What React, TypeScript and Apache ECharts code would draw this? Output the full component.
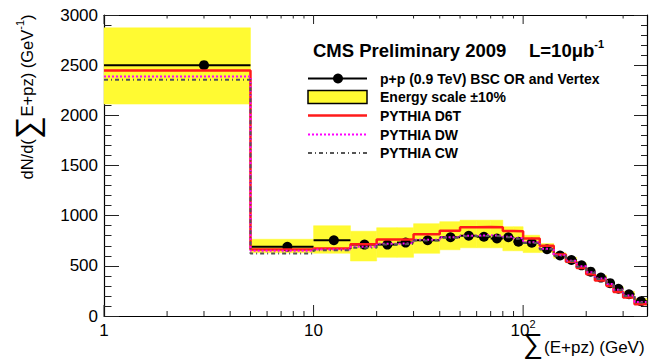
import { useEffect, useRef } from "react";
import * as echarts from "echarts";

const FONT = '"Liberation Sans", Arial, Helvetica, sans-serif';

// Bin edges of sum(E+pz) in GeV
const binEdges = [1, 5, 10, 15, 20, 25, 30, 40, 50, 60, 70, 80, 90, 100, 120, 140, 160, 180, 200, 220, 250, 270, 300, 340, 390];

// Measured dN/d(sum E+pz) per bin
const dataValues = [2500, 690, 755, 712, 712, 732, 755, 785, 800, 790, 772, 785, 740, 730, 665, 603, 558, 505, 442, 383, 327, 272, 217, 147];

// Energy scale envelope per bin
const bandLow = [2112, 630, 625, 548, 585, 585, 625, 660, 680, 680, 680, 650, 650, 632, 635, 575, 530, 480, 415, 355, 300, 245, 190, 120];
const bandHigh = [2872, 765, 900, 845, 880, 880, 920, 940, 955, 955, 955, 890, 890, 805, 722, 630, 585, 530, 465, 405, 350, 295, 245, 175];

// Generator predictions per bin
const pythiaD6T = [2448, 662, 672, 715, 762, 762, 815, 850, 885, 888, 885, 848, 845, 772, 700, 612, 540, 478, 415, 355, 298, 240, 185, 118];
const pythiaDW = [2388, 650, 662, 690, 720, 725, 760, 785, 800, 805, 800, 790, 775, 735, 670, 605, 550, 495, 435, 375, 318, 262, 205, 140];
const pythiaCW = [2355, 622, 655, 680, 712, 718, 752, 780, 795, 798, 795, 785, 770, 728, 665, 600, 545, 490, 430, 370, 313, 258, 200, 135];

// Log-axis ticks and their labels (mantissa, exponent)
const xMajorTicks = [1, 10, 100];
const xTickLabels: [string, string][] = [["1", ""], ["10", ""], ["10", "2"]];
const xMinorTicks = [2, 3, 4, 5, 6, 7, 8, 9, 20, 30, 40, 50, 60, 70, 80, 90, 200, 300];

const X_MIN = 1;
const X_MAX = 390;
const Y_MIN = 0;
const Y_MAX = 3000;
const Y_STEP = 500;

const YELLOW = "#fffa32";
const RED = "#ff1a1a";
const MAGENTA = "#ff00ff";
const GREY = "#555555";

const stepData = (vals: number[]) =>
  vals.flatMap((v, i) => [
    [binEdges[i], v],
    [binEdges[i + 1], v],
  ]);

const textStyle = (extra: any) => ({
  fontFamily: FONT,
  fill: "#000",
  align: "left",
  verticalAlign: "middle",
  textAlign: "left",
  textVerticalAlign: "middle",
  ...extra,
});

export default function App() {
  const ref = useRef<HTMLDivElement>(null);

  useEffect(() => {
    if (!ref.current) return;
    const chart = echarts.init(ref.current, undefined, { renderer: "svg" });

    const bins = dataValues.map((_, i) => ({ lo: binEdges[i], hi: binEdges[i + 1] }));

    const logAxis = (position: "bottom" | "top", showLabels: boolean) => ({
      type: "log",
      logBase: 10,
      min: X_MIN,
      max: X_MAX,
      position,
      axisLine: { show: true, onZero: false, lineStyle: { color: "#000", width: 1.2 } },
      axisTick: { show: false },
      minorTick: { show: false },
      splitLine: { show: false },
      axisLabel: showLabels
        ? {
            show: true,
            margin: 2,
            color: "#000",
            fontFamily: FONT,
            fontSize: 17,
            formatter: (v: number) => {
              const idx = xMajorTicks.findIndex((t) => Math.abs(t - v) / t < 1e-6);
              if (idx < 0) return "";
              const [m, e] = xTickLabels[idx];
              return `{n|${m}}` + (e ? `{sup|${e}}` : "");
            },
            rich: {
              n: { fontSize: 17, lineHeight: 25, fontFamily: FONT, color: "#000" },
              sup: { fontSize: 11, padding: [0, 0, 14, 0], fontFamily: FONT, color: "#000" },
            },
          }
        : { show: false },
    });

    const valueAxis = (position: "left" | "right", showLabels: boolean) => ({
      type: "value",
      min: Y_MIN,
      max: Y_MAX,
      interval: Y_STEP,
      position,
      axisLine: { show: true, onZero: false, lineStyle: { color: "#000", width: 1.2 } },
      axisTick: {
        show: true,
        inside: true,
        length: position === "left" ? 15 : 13,
        lineStyle: { color: "#222", width: 1 },
      },
      minorTick: {
        show: true,
        splitNumber: 5,
        length: position === "left" ? 7.5 : 6,
        lineStyle: { color: "#222", width: 1 },
      },
      splitLine: { show: false },
      axisLabel: showLabels
        ? {
            show: true,
            margin: 6,
            color: "#000",
            fontFamily: FONT,
            fontSize: 17,
            formatter: (v: number) => String(v),
          }
        : { show: false },
    });

    const legendRows = [
      { y: 78.5, label: "p+p (0.9 TeV) BSC OR and Vertex" },
      { y: 97, label: "Energy scale ±10%" },
      { y: 115.5, label: "PYTHIA D6T" },
      { y: 134.5, label: "PYTHIA DW" },
      { y: 153, label: "PYTHIA CW" },
    ];
    const LX0 = 308;
    const LX1 = 367;

    const legendGraphics: any[] = [
      { type: "line", shape: { x1: LX0, y1: legendRows[0].y, x2: LX1, y2: legendRows[0].y }, style: { stroke: "#000", lineWidth: 2 } },
      { type: "circle", shape: { cx: 338, cy: legendRows[0].y, r: 5 }, style: { fill: "#000" } },
      { type: "rect", shape: { x: LX0, y: legendRows[1].y - 6.5, width: LX1 - LX0, height: 13 }, style: { fill: YELLOW, stroke: "#000", lineWidth: 1.5 } },
      { type: "line", shape: { x1: LX0, y1: legendRows[2].y, x2: LX1, y2: legendRows[2].y }, style: { stroke: RED, lineWidth: 2.5 } },
      { type: "line", shape: { x1: LX0, y1: legendRows[3].y, x2: LX1, y2: legendRows[3].y }, style: { stroke: MAGENTA, lineWidth: 2, lineDash: [2, 2] } },
      { type: "line", shape: { x1: LX0, y1: legendRows[4].y, x2: LX1, y2: legendRows[4].y }, style: { stroke: GREY, lineWidth: 2, lineDash: [4, 3, 1, 3] } },
      ...legendRows.map((r) => ({
        type: "text",
        x: 380,
        y: r.y,
        style: textStyle({ text: r.label, fontSize: 14, fontWeight: "bold" }),
      })),
    ];

    const option: any = {
      animation: false,
      textStyle: { fontFamily: FONT },
      grid: { left: 104, right: 3, top: 15, bottom: 48, containLabel: false },
      xAxis: [logAxis("bottom", true), logAxis("top", false)],
      yAxis: [valueAxis("left", true), valueAxis("right", false)],
      series: [
        {
          name: "Energy scale",
          type: "custom",
          xAxisIndex: 0,
          yAxisIndex: 0,
          encode: { x: [0, 1], y: [2, 3] },
          data: bins.map((b, i) => [b.lo, b.hi, bandLow[i], bandHigh[i]]),
          renderItem: (_p: any, api: any) => {
            const tl = api.coord([api.value(0), api.value(3)]);
            const br = api.coord([api.value(1), api.value(2)]);
            return {
              type: "rect",
              shape: { x: tl[0], y: tl[1], width: br[0] - tl[0], height: br[1] - tl[1] },
              style: { fill: YELLOW, stroke: YELLOW, lineWidth: 0.5 },
            };
          },
          z: 1,
        },
        {
          name: "Axis ticks",
          type: "custom",
          xAxisIndex: 0,
          yAxisIndex: 0,
          encode: { x: 0, y: 1 },
          data: [
            ...xMajorTicks.map((v) => [v, Y_MIN, 1]),
            ...xMinorTicks.map((v) => [v, Y_MIN, 0]),
          ],
          renderItem: (_p: any, api: any) => {
            const v = api.value(0);
            const major = api.value(2) === 1;
            const pb = api.coord([v, Y_MIN]);
            const pt = api.coord([v, Y_MAX]);
            const lb = major ? 11 : 5;
            const lt = major ? 9 : 3.5;
            return {
              type: "group",
              children: [
                { type: "line", shape: { x1: pb[0], y1: pb[1], x2: pb[0], y2: pb[1] - lb }, style: { stroke: "#222", lineWidth: 1 } },
                { type: "line", shape: { x1: pt[0], y1: pt[1], x2: pt[0], y2: pt[1] + lt }, style: { stroke: "#222", lineWidth: 1 } },
              ],
            };
          },
          z: 2,
        },
        {
          name: "p+p (0.9 TeV) BSC OR and Vertex",
          type: "custom",
          xAxisIndex: 0,
          yAxisIndex: 0,
          encode: { x: [0, 1, 2], y: 3 },
          data: bins.map((b, i) => [b.lo, b.hi, (b.lo + b.hi) / 2, dataValues[i]]),
          renderItem: (_p: any, api: any) => {
            const v = api.value(3);
            const a = api.coord([api.value(0), v]);
            const b = api.coord([api.value(1), v]);
            const c = api.coord([api.value(2), v]);
            return {
              type: "group",
              children: [
                { type: "line", shape: { x1: a[0], y1: a[1], x2: b[0], y2: b[1] }, style: { stroke: "#000", lineWidth: 2 } },
                { type: "circle", shape: { cx: c[0], cy: c[1], r: 5 }, style: { fill: "#000" } },
              ],
            };
          },
          z: 3,
        },
        {
          name: "PYTHIA D6T",
          type: "line",
          data: stepData(pythiaD6T),
          showSymbol: false,
          symbol: "none",
          lineStyle: { color: RED, width: 2.5 },
          z: 4,
        },
        {
          name: "PYTHIA DW",
          type: "line",
          data: stepData(pythiaDW),
          showSymbol: false,
          symbol: "none",
          lineStyle: { color: MAGENTA, width: 2, type: [2, 2] },
          z: 5,
        },
        {
          name: "PYTHIA CW",
          type: "line",
          data: stepData(pythiaCW),
          showSymbol: false,
          symbol: "none",
          lineStyle: { color: GREY, width: 2, type: [4, 3, 1, 3] },
          z: 6,
        },
      ],
      graphic: [
        // y-axis title, reading bottom to top
        {
          type: "text",
          x: 27,
          y: 97,
          rotation: Math.PI / 2,
          style: textStyle({
            text: "dN/d({sig|∑}E+pz) (GeV{sup|-1})",
            fontSize: 16.5,
            align: "center",
            textAlign: "center",
            rich: {
              sig: { fontFamily: FONT, fontSize: 32, fill: "#000" },
              sup: { fontFamily: FONT, fontSize: 11, fill: "#000", padding: [0, 0, 14, 0] },
            },
          }),
        },
        // x-axis title: summation sign and quantity
        {
          type: "text",
          x: 523,
          y: 343,
          style: textStyle({ text: "∑", fontSize: 28 }),
        },
        {
          type: "text",
          x: 544,
          y: 347,
          style: textStyle({ text: "(E+pz) (GeV)", fontSize: 17 }),
        },
        // header
        {
          type: "text",
          x: 313,
          y: 50,
          style: textStyle({ text: "CMS Preliminary 2009", fontSize: 18.5, fontWeight: "bold" }),
        },
        {
          type: "text",
          x: 529,
          y: 50,
          style: textStyle({
            text: "{t|L=10μb}{s|-1}",
            fontSize: 18.5,
            fontWeight: "bold",
            rich: {
              t: { fontFamily: FONT, fontSize: 18.5, fontWeight: "bold", fill: "#000" },
              s: { fontFamily: FONT, fontSize: 11, fontWeight: "bold", fill: "#000", padding: [0, 0, 12, 0] },
            },
          }),
        },
        ...legendGraphics,
      ],
    };

    chart.setOption(option);
    return () => chart.dispose();
  }, []);

  return (
    <div
      ref={ref}
      style={{ position: "absolute", left: 0, top: 0, width: 650, height: 364, background: "#fff" }}
    />
  );
}
